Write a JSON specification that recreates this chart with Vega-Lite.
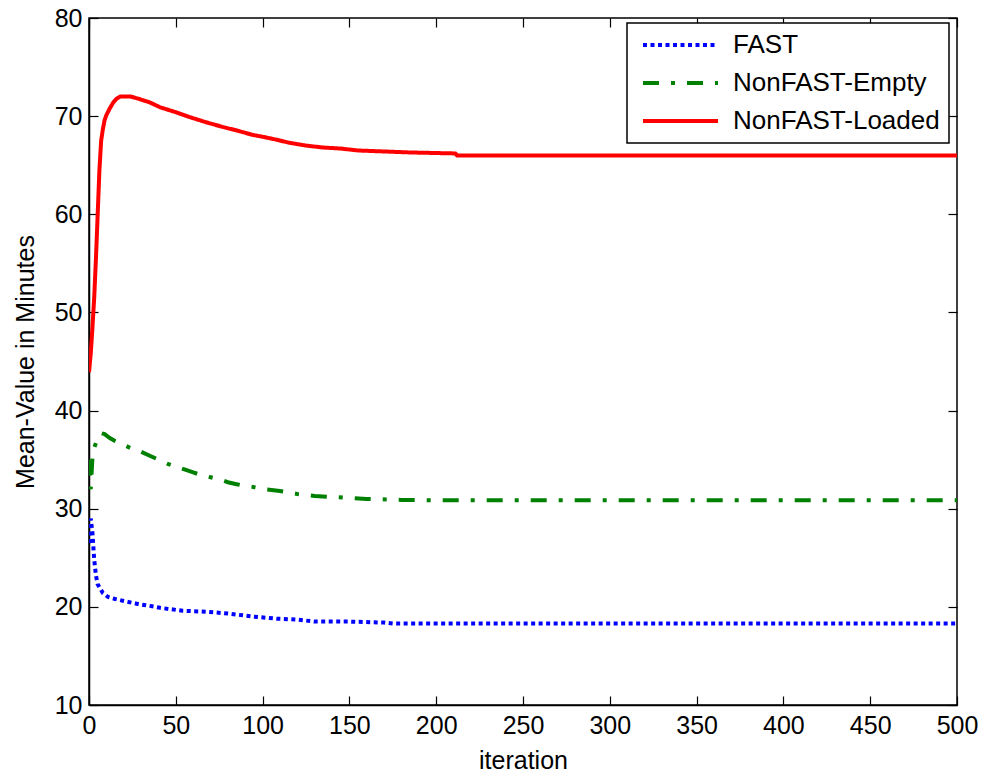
{
  "$schema": "https://vega.github.io/schema/vega-lite/v6.json",
  "autosize": "none",
  "width": 868,
  "height": 687,
  "padding": {"left": 89, "top": 18, "right": 30, "bottom": 71},
  "background": "white",
  "config": {
    "view": {"stroke": "black", "strokeWidth": 1.5},
    "font": "Liberation Sans",
    "axis": {
      "labelFont": "Liberation Sans", "titleFont": "Liberation Sans",
      "labelFontSize": 25, "titleFontSize": 25, "labelColor": "black", "titleColor": "black",
      "titleFontWeight": "normal", "grid": false, "domainColor": "black", "domainWidth": 1.5,
      "ticks": true, "tickColor": "black", "tickWidth": 1.2, "tickSize": -9, "labelFlush": false, "zindex": 1
    },
    "legend": {
      "orient": "none", "legendX": 538, "legendY": 5,
      "strokeColor": "black", "strokeWidth": 1.5, "fillColor": "white", "cornerRadius": 0,
      "padding": 9, "labelFont": "Liberation Sans", "labelFontSize": 26, "labelColor": "black", "labelLimit": 0,
      "symbolType": "stroke", "symbolSize": 5625, "symbolStrokeWidth": 4, "labelOffset": 13,
      "clipHeight": 26, "rowPadding": 12, "symbolOffset": 5, "title": null
    }
  },
  "datasets": {
    "curves": [
      {"series": "FAST", "iteration": 0, "value": 26.5},
      {"series": "FAST", "iteration": 1, "value": 29.0},
      {"series": "FAST", "iteration": 2, "value": 27.5},
      {"series": "FAST", "iteration": 3, "value": 24.8},
      {"series": "FAST", "iteration": 4, "value": 23.2},
      {"series": "FAST", "iteration": 5, "value": 22.3},
      {"series": "FAST", "iteration": 8, "value": 21.4},
      {"series": "FAST", "iteration": 11, "value": 21.0},
      {"series": "FAST", "iteration": 15, "value": 20.8},
      {"series": "FAST", "iteration": 20, "value": 20.6},
      {"series": "FAST", "iteration": 28, "value": 20.3},
      {"series": "FAST", "iteration": 35, "value": 20.1},
      {"series": "FAST", "iteration": 41, "value": 19.9},
      {"series": "FAST", "iteration": 54, "value": 19.6},
      {"series": "FAST", "iteration": 68, "value": 19.5},
      {"series": "FAST", "iteration": 81, "value": 19.3},
      {"series": "FAST", "iteration": 95, "value": 19.0},
      {"series": "FAST", "iteration": 108, "value": 18.8},
      {"series": "FAST", "iteration": 120, "value": 18.7},
      {"series": "FAST", "iteration": 130, "value": 18.5},
      {"series": "FAST", "iteration": 150, "value": 18.5},
      {"series": "FAST", "iteration": 170, "value": 18.4},
      {"series": "FAST", "iteration": 175, "value": 18.3},
      {"series": "FAST", "iteration": 250, "value": 18.3},
      {"series": "FAST", "iteration": 500, "value": 18.3},
      {"series": "NonFAST-Empty", "iteration": 0, "value": 35.0},
      {"series": "NonFAST-Empty", "iteration": 1, "value": 32.0},
      {"series": "NonFAST-Empty", "iteration": 2, "value": 35.3},
      {"series": "NonFAST-Empty", "iteration": 3, "value": 36.2},
      {"series": "NonFAST-Empty", "iteration": 5, "value": 37.2},
      {"series": "NonFAST-Empty", "iteration": 7, "value": 37.7},
      {"series": "NonFAST-Empty", "iteration": 9, "value": 37.6},
      {"series": "NonFAST-Empty", "iteration": 12, "value": 37.2},
      {"series": "NonFAST-Empty", "iteration": 15, "value": 36.9},
      {"series": "NonFAST-Empty", "iteration": 20, "value": 36.5},
      {"series": "NonFAST-Empty", "iteration": 25, "value": 36.1},
      {"series": "NonFAST-Empty", "iteration": 30, "value": 35.8},
      {"series": "NonFAST-Empty", "iteration": 35, "value": 35.4},
      {"series": "NonFAST-Empty", "iteration": 40, "value": 35.0},
      {"series": "NonFAST-Empty", "iteration": 45, "value": 34.6},
      {"series": "NonFAST-Empty", "iteration": 50, "value": 34.3},
      {"series": "NonFAST-Empty", "iteration": 55, "value": 34.0},
      {"series": "NonFAST-Empty", "iteration": 60, "value": 33.7},
      {"series": "NonFAST-Empty", "iteration": 65, "value": 33.4},
      {"series": "NonFAST-Empty", "iteration": 70, "value": 33.2},
      {"series": "NonFAST-Empty", "iteration": 75, "value": 33.0},
      {"series": "NonFAST-Empty", "iteration": 80, "value": 32.7},
      {"series": "NonFAST-Empty", "iteration": 85, "value": 32.5},
      {"series": "NonFAST-Empty", "iteration": 90, "value": 32.3},
      {"series": "NonFAST-Empty", "iteration": 95, "value": 32.2},
      {"series": "NonFAST-Empty", "iteration": 100, "value": 32.0},
      {"series": "NonFAST-Empty", "iteration": 110, "value": 31.8},
      {"series": "NonFAST-Empty", "iteration": 120, "value": 31.5},
      {"series": "NonFAST-Empty", "iteration": 130, "value": 31.3},
      {"series": "NonFAST-Empty", "iteration": 140, "value": 31.2},
      {"series": "NonFAST-Empty", "iteration": 150, "value": 31.1},
      {"series": "NonFAST-Empty", "iteration": 160, "value": 31.0},
      {"series": "NonFAST-Empty", "iteration": 180, "value": 30.9},
      {"series": "NonFAST-Empty", "iteration": 200, "value": 30.85},
      {"series": "NonFAST-Empty", "iteration": 500, "value": 30.85},
      {"series": "NonFAST-Loaded", "iteration": 0, "value": 43.9},
      {"series": "NonFAST-Loaded", "iteration": 1, "value": 45.8},
      {"series": "NonFAST-Loaded", "iteration": 2, "value": 48.5},
      {"series": "NonFAST-Loaded", "iteration": 3, "value": 51.5},
      {"series": "NonFAST-Loaded", "iteration": 4, "value": 55.5},
      {"series": "NonFAST-Loaded", "iteration": 5, "value": 60.0},
      {"series": "NonFAST-Loaded", "iteration": 6, "value": 64.5},
      {"series": "NonFAST-Loaded", "iteration": 7, "value": 67.5},
      {"series": "NonFAST-Loaded", "iteration": 8, "value": 68.7},
      {"series": "NonFAST-Loaded", "iteration": 9, "value": 69.6},
      {"series": "NonFAST-Loaded", "iteration": 10, "value": 70.1},
      {"series": "NonFAST-Loaded", "iteration": 12, "value": 70.8},
      {"series": "NonFAST-Loaded", "iteration": 14, "value": 71.4},
      {"series": "NonFAST-Loaded", "iteration": 16, "value": 71.8},
      {"series": "NonFAST-Loaded", "iteration": 18, "value": 72.0},
      {"series": "NonFAST-Loaded", "iteration": 24, "value": 72.0},
      {"series": "NonFAST-Loaded", "iteration": 28, "value": 71.8},
      {"series": "NonFAST-Loaded", "iteration": 35, "value": 71.4},
      {"series": "NonFAST-Loaded", "iteration": 41, "value": 70.9},
      {"series": "NonFAST-Loaded", "iteration": 50, "value": 70.4},
      {"series": "NonFAST-Loaded", "iteration": 58, "value": 69.9},
      {"series": "NonFAST-Loaded", "iteration": 67, "value": 69.4},
      {"series": "NonFAST-Loaded", "iteration": 77, "value": 68.9},
      {"series": "NonFAST-Loaded", "iteration": 86, "value": 68.5},
      {"series": "NonFAST-Loaded", "iteration": 94, "value": 68.1},
      {"series": "NonFAST-Loaded", "iteration": 100, "value": 67.9},
      {"series": "NonFAST-Loaded", "iteration": 108, "value": 67.6},
      {"series": "NonFAST-Loaded", "iteration": 115, "value": 67.3},
      {"series": "NonFAST-Loaded", "iteration": 125, "value": 67.0},
      {"series": "NonFAST-Loaded", "iteration": 135, "value": 66.8},
      {"series": "NonFAST-Loaded", "iteration": 145, "value": 66.7},
      {"series": "NonFAST-Loaded", "iteration": 155, "value": 66.5},
      {"series": "NonFAST-Loaded", "iteration": 170, "value": 66.4},
      {"series": "NonFAST-Loaded", "iteration": 185, "value": 66.3},
      {"series": "NonFAST-Loaded", "iteration": 211, "value": 66.2},
      {"series": "NonFAST-Loaded", "iteration": 212, "value": 66.0},
      {"series": "NonFAST-Loaded", "iteration": 500, "value": 66.0}
    ]
  },
  "data": {"name": "curves"},
  "layer": [
    {
      "mark": {"type": "line", "strokeWidth": 4, "strokeCap": "butt", "clip": true},
      "encoding": {
        "x": {"field": "iteration", "type": "quantitative",
          "scale": {"domain": [0, 500], "nice": false, "zero": false},
          "axis": {"orient": "bottom", "values": [0,50,100,150,200,250,300,350,400,450,500],
            "title": "iteration", "ticks": true, "tickSize": -9, "labelPadding": 17, "titleY": 63, "titleBaseline": "alphabetic"}},
        "y": {"field": "value", "type": "quantitative",
          "scale": {"domain": [10, 80], "nice": false, "zero": false},
          "axis": {"orient": "left", "values": [10,20,30,40,50,60,70,80],
            "title": "Mean-Value in Minutes", "ticks": true, "tickSize": -9, "labelPadding": 16, "titleX": -56, "titleBaseline": "alphabetic"}},
        "color": {"field": "series", "type": "nominal",
          "scale": {"domain": ["FAST", "NonFAST-Empty", "NonFAST-Loaded"], "range": ["#0000ff", "#008000", "#ff0000"]}},
        "strokeDash": {"field": "series", "type": "nominal",
          "scale": {"domain": ["FAST", "NonFAST-Empty", "NonFAST-Loaded"], "range": [[4, 3.5], [16, 12, 4, 12], [1, 0]]}}
      }
    },
    {
      "mark": {"type": "line", "opacity": 0},
      "encoding": {
        "x": {"field": "iteration", "type": "quantitative",
          "axis": {"orient": "top", "values": [0,50,100,150,200,250,300,350,400,450,500], "labels": false, "title": null, "domain": false, "ticks": true, "tickSize": -9}},
        "y": {"field": "value", "type": "quantitative",
          "axis": {"orient": "right", "values": [10,20,30,40,50,60,70,80], "labels": false, "title": null, "domain": false, "ticks": true, "tickSize": -9}},
        "detail": {"field": "series", "type": "nominal"}
      }
    }
  ],
  "resolve": {"axis": {"x": "independent", "y": "independent"}}
}
